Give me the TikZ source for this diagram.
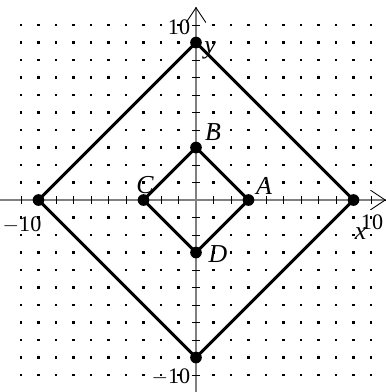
\documentclass[tikz,border=0pt]{standalone}
\usepackage{fontspec}
\setmainfont{Liberation Serif}
\usetikzlibrary{arrows.meta}

\begin{document}
\begin{tikzpicture}[x=0.5cm, y=0.5cm, >={Straight Barb[length=12pt, width=16pt]},
      vertex/.style={circle, fill, inner sep=0pt, minimum size=9.5pt},
      griddot/.style={fill, inner sep=0pt, minimum size=2.1pt},
      numlbl/.style={font=\fontsize{18}{18}\selectfont},
      ptlbl/.style={font=\fontsize{21}{21}\selectfont\itshape},
      side/.style={line width=2.5pt}]
    \useasboundingbox (-11.2,-10.97) rectangle (10.857,11.43);

    % dots of the grid
    \foreach \i in {-10,...,-1,1,2,...,10}
      \foreach \j in {-10,...,-1,1,2,...,10}
        \node[griddot] at (\i,\j) {};

    % axes
    \coordinate (xmin) at (-11.2,0);
    \coordinate (xmax) at (10.857,0);
    \coordinate (ymin) at (0,-10.97);
    \coordinate (ymax) at (0,11.03);
    \draw[gray, line width=0.9pt] (xmin) -- (xmax);
    \draw[gray, line width=0.9pt] (ymin) -- (ymax);
    \draw[->, line width=0.7pt] ([xshift=-1pt]xmax) -- (xmax);
    \draw[->, line width=0.7pt] ([yshift=-1pt]ymax) -- (ymax);
    \foreach \k in {-10,...,-1,1,2,...,10} {
      \draw[line width=0.8pt] (\k,-0.23) -- (\k,0.23);
      \draw[line width=0.8pt] (-0.23,\k) -- (0.23,\k);
    }

    % squares
    \node[vertex] (top) at (0,9) {};
    \node[vertex] (left) at (-9,0) {};
    \node[vertex] (bottom) at (0,-9) {};
    \node[vertex] (right) at (9,0) {};
    \node[vertex] (A) at (3,0) {};
    \node[vertex] (B) at (0,3) {};
    \node[vertex] (C) at (-3,0) {};
    \node[vertex] (D) at (0,-3) {};
    \draw[side] (top.center) -- (left.center) -- (bottom.center) -- (right.center) -- cycle;
    \draw[side] (A.center) -- (B.center) -- (C.center) -- (D.center) -- cycle;

    % labels
    \node[ptlbl] (labA) at (3.89,0.8) {A};
    \node[ptlbl] (labB) at (0.97,3.89) {B};
    \node[ptlbl] (labC) at (-2.91,0.86) {C};
    \node[ptlbl] (labD) at (1.26,-3.09) {D};
    \node[ptlbl] (laby) at (0.8,8.57) {y};
    \node[ptlbl] (labx) at (9.4,-1.9) {x};
    \node[numlbl] (ytop) at (-0.97,9.89) {10};
    \node[numlbl] (ybot) at (-1.43,-10.11) {$-$10};
    \node[numlbl] (xleft) at (-9.94,-1.43) {$-$10};
    \node[numlbl] (xright) at (10.06,-1.26) {10};
\end{tikzpicture}
\end{document}
